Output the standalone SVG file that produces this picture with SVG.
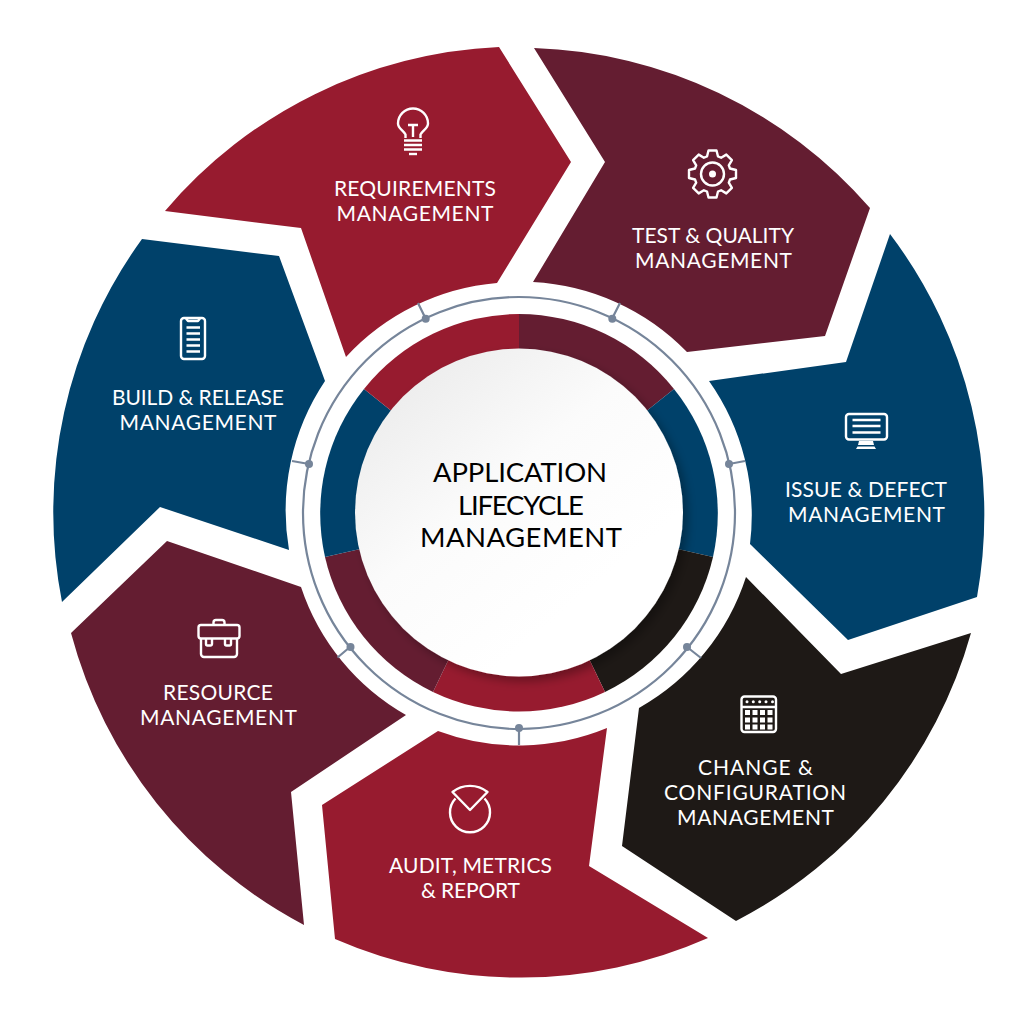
<svg xmlns="http://www.w3.org/2000/svg" width="1035" height="1023" viewBox="0 0 1035 1023">
<style>
.crimson{fill:#971b2f}.wine{fill:#641d31}.blue{fill:#00416a}.black{fill:#1e1916}
.t{font-family:"Lato","Liberation Sans",sans-serif;font-size:21px;fill:#fff;text-anchor:middle}
.c{font-family:"Lato","Liberation Sans",sans-serif;font-size:27.500px;fill:#000;text-anchor:middle}
.i{fill:none;stroke:#fff;stroke-width:2.400;stroke-linejoin:round}
.f{fill:#fff;stroke:none}
.l{stroke:#76859a;stroke-width:2.200;fill:none}
.d{fill:#76859a}
</style>
<defs>
<linearGradient id="disc" x1="0.15" y1="0.1" x2="0.7" y2="0.75">
<stop offset="0" stop-color="#ededed"/><stop offset="0.5" stop-color="#fbfbfb"/><stop offset="1" stop-color="#fff"/>
</linearGradient>
<filter id="sh" x="-20%" y="-20%" width="140%" height="140%">
<feDropShadow dx="5" dy="5" stdDeviation="5" flood-color="#000" flood-opacity="0.3"/>
</filter>
</defs>
<rect width="1035" height="1023" fill="#fff"/>

<g id="node-requirements">
<path class="crimson" d="M165 211A465 465 0 0 1 499 47L571 162L497 283A232 232 0 0 0 346 357L301 228Z"/>
<path class="i" d="M405.500 138V134.500C403 130 398 128.500 398 123.500A15 15 0 1 1 428 123.500C428 128.500 423 130 420.500 134.500V138M408 125H418M413 125V137"/>
<path class="i" d="M404 140.500H422M404 145H422M404 149.500H422"/><path class="i" d="M409 154H417"/>
<text class="t"><tspan x="415" y="196" textLength="162">REQUIREMENTS</tspan><tspan x="415" y="221" textLength="157">MANAGEMENT</tspan></text>
</g>

<g id="node-test">
<path class="wine" d="M534 48A465 465 0 0 1 870 208L825 336L687 352A232 232 0 0 0 533 282L605 162Z"/>
<path class="i" transform="translate(712.500 174)" d="M-5.500-17.500L-4-23.500L4-23.500L5.500-17.500L8.600-16.300L13.800-19.400L19.400-13.800L16.300-8.600L17.500-5.500L23.500-4L23.500 4L17.500 5.500L16.300 8.600L19.400 13.800L13.800 19.400L8.600 16.300L5.500 17.500L4 23.500L-4 23.500L-5.500 17.500L-8.600 16.300L-13.800 19.400L-19.400 13.800L-16.300 8.600L-17.500 5.500L-23.500 4L-23.500-4L-17.500-5.500L-16.300-8.600L-19.400-13.800L-13.800-19.400L-8.600-16.300Z"/>
<circle class="i" cx="712.500" cy="174" r="11.500"/><circle class="f" cx="712.500" cy="174" r="3.500"/>
<text class="t"><tspan x="713" y="243" textLength="162">TEST &amp; QUALITY</tspan><tspan x="713.500" y="268" textLength="157">MANAGEMENT</tspan></text>
</g>

<g id="node-issue">
<path class="blue" d="M890 234A465 465 0 0 1 977 597L848 640L750 544A233 233 0 0 0 709 381L846 362Z"/>
<rect class="i" x="846" y="414" width="41" height="25.500" rx="3"/>
<path class="i" d="M852.500 420H880.500M852.500 426H880.500M852.500 432.500H880.500"/>
<path class="f" d="M859 441H873L874 445H858ZM857.500 446.500H874.500L876 449H856Z"/>
<text class="t"><tspan x="866" y="497" textLength="162">ISSUE &amp; DEFECT</tspan><tspan x="866.500" y="522" textLength="157">MANAGEMENT</tspan></text>
</g>

<g id="node-change">
<path class="black" d="M971 633A465 465 0 0 1 736 921L622 846L639 708A232 232 0 0 0 746 577L841 674Z"/>
<rect class="i" x="741.500" y="696.500" width="34.500" height="35.500" rx="3"/>
<path class="i" d="M741.500 707H776"/>
<g class="f"><circle cx="747" cy="701.800" r="1.500"/><circle cx="753.300" cy="701.800" r="1.500"/><circle cx="759.700" cy="701.800" r="1.500"/><circle cx="766" cy="701.800" r="1.500"/><circle cx="772.500" cy="701.800" r="1.500"/>
<rect x="745" y="710" width="5" height="5"/><rect x="752.500" y="710" width="5" height="5"/><rect x="760" y="710" width="5" height="5"/><rect x="767.500" y="710" width="5" height="5"/>
<rect x="745" y="717.500" width="5" height="5"/><rect x="752.500" y="717.500" width="5" height="5"/><rect x="760" y="717.500" width="5" height="5"/><rect x="767.500" y="717.500" width="5" height="5"/>
<rect x="745" y="724.500" width="5" height="5"/><rect x="752.500" y="724.500" width="5" height="5"/><rect x="760" y="724.500" width="5" height="5"/><rect x="767.500" y="724.500" width="5" height="5"/></g>
<text class="t"><tspan x="755.500" y="775" textLength="115">CHANGE &amp;</tspan><tspan x="755" y="800" textLength="182">CONFIGURATION</tspan><tspan x="755.500" y="825" textLength="157">MANAGEMENT</tspan></text>
</g>

<g id="node-audit">
<path class="crimson" d="M322 805L438 731A232 232 0 0 0 607 728L589 866L708 938A465 465 0 0 1 335 939Z"/>
<path class="i" d="M470 810L452.500 792A28 28 0 0 1 487.500 792Z"/>
<path class="i" d="M455.500 798.500A20 20 0 1 0 484.500 798.500"/>
<text class="t"><tspan x="470.500" y="873" textLength="163">AUDIT, METRICS</tspan><tspan x="470.500" y="898" textLength="99">&amp; REPORT</tspan></text>
</g>

<g id="node-resource">
<path class="wine" d="M71 633L167 541L301 587A231 231 0 0 0 406 715L291 792L304 925A465 465 0 0 1 71 633Z"/>
<rect class="i" x="198.500" y="625" width="41" height="13.500" rx="2.500"/>
<path class="i" d="M201 638.500V654A3 3 0 0 0 204 657H234A3 3 0 0 0 237 654V638.500M213.500 625V622.500A2.500 2.500 0 0 1 216 620H222A2.500 2.500 0 0 1 224.500 622.500V625M206 638.500V644A1.500 1.500 0 0 0 207.500 645.500H210.500A1.500 1.500 0 0 0 212 644V638.500M225 638.500V644A1.500 1.500 0 0 0 226.500 645.500H229.500A1.500 1.500 0 0 0 231 644V638.500"/>
<text class="t"><tspan x="218" y="700" textLength="110">RESOURCE</tspan><tspan x="218.500" y="725" textLength="157">MANAGEMENT</tspan></text>
</g>

<g id="node-build">
<path class="blue" d="M142 239A465 465 0 0 0 62 602L160 507L289 550A233 233 0 0 1 325 381L279 256Z"/>
<path class="i" d="M184 318H202A3 3 0 0 1 205 321V356A3 3 0 0 1 202 359H184A3 3 0 0 1 181 356V321A3 3 0 0 1 184 318ZM186 318.500L188 321H198L200 318.500"/>
<path class="i" d="M186.500 327.500H200M186.500 333.500H200M186.500 339.500H200M186.500 345.500H200M186.500 351.500H200"/>
<text class="t"><tspan x="198" y="405" textLength="172">BUILD &amp; RELEASE</tspan><tspan x="198" y="430" textLength="157">MANAGEMENT</tspan></text>
</g>

<g id="connectors">
<circle class="l" cx="519" cy="513" r="216"/>
<path class="l" d="M425.700 318.700L418 303M612 318.700L620 303M729 464L745 461M687 647L701 658M519 728V745M350 647L337.500 657.500M309 464L292 461"/>
<g class="d"><circle cx="425.700" cy="318.700" r="4"/><circle cx="612.300" cy="318.700" r="4"/><circle cx="729" cy="464" r="4"/><circle cx="687" cy="647" r="4"/><circle cx="519" cy="728" r="4"/><circle cx="350.500" cy="647" r="4"/><circle cx="309" cy="464" r="4"/></g>
</g>

<g id="node-center">
<path class="wine" d="M519 513V314A199 199 0 0 1 674 389Z"/>
<path class="blue" d="M519 513L674 389A199 199 0 0 1 713 557Z"/>
<path class="black" d="M519 513L713 557A199 199 0 0 1 605 692Z"/>
<path class="crimson" d="M519 513L605 692A199 199 0 0 1 433 692Z"/>
<path class="wine" d="M519 513L433 692A199 199 0 0 1 325 557Z"/>
<path class="blue" d="M519 513L325 557A199 199 0 0 1 364 389Z"/>
<path class="crimson" d="M519 513L364 389A199 199 0 0 1 519 314Z"/>
<circle cx="519" cy="512.500" r="164" fill="url(#disc)" filter="url(#sh)"/>
<text class="c"><tspan x="520" y="482" textLength="174">APPLICATION</tspan><tspan x="521" y="514.500" textLength="126">LIFECYCLE</tspan><tspan x="521" y="547" textLength="202">MANAGEMENT</tspan></text>
</g>
</svg>
